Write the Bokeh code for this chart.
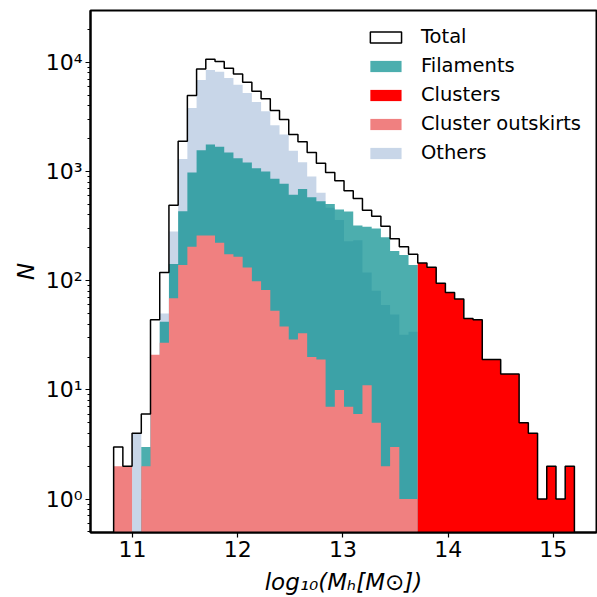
import numpy as np
from bokeh.plotting import figure
from bokeh.models import FixedTicker, Legend, LegendItem
from bokeh.embed import file_html
from bokeh.resources import INLINE

# ---------------- data ----------------
edge_min, edge_max, n_bins = 10.82, 15.20, 50
bin_edges = np.linspace(edge_min, edge_max, n_bins + 1)

total = [3, 2, 4, 6, 44, 119, 491, 1897, 4975, 8690, 10700, 10200, 8810, 7830,
         6580, 5450, 4640, 3630, 2990, 2180, 1875, 1490, 1190, 980, 822, 667,
         566, 442, 390, 316, 242, 205, 175, 145, 133, 95, 78, 68, 45, 44, 19,
         19, 14, 14, 5, 4, 1, 2, 1, 2]
others = [1, 0, 4, 1, 13, 50, 282, 1300, 3820, 6900, 8510, 8220, 7200, 6220,
          5230, 4330, 3560, 2650, 2180, 1550, 1216, 900, 640, 465, 360, 230,
          235, 119, 81, 60, 49, 32, 34] + [0] * 17
filaments = [0, 0, 0, 3, 10, 42, 142, 433, 980, 1570, 1770, 1690, 1497, 1321,
             1208, 1072, 1000, 857, 771, 612, 690, 580, 533, 505, 450, 430,
             320, 312, 300, 250, 187, 172, 139] + [0] * 17
outskirts = [2, 2, 0, 2, 21, 27, 69, 139, 205, 260, 260, 223, 175, 166, 132,
             99, 82, 53, 38, 29, 33, 20, 19, 7, 10, 7, 6, 11, 5, 2, 3, 1, 1] + [0] * 17
clusters = [0] * 33 + [145, 133, 95, 78, 68, 45, 44, 19, 19, 14, 14, 5, 4, 1, 2, 1, 2]

x_ticks = [11, 12, 13, 14, 15]
y_ticks = [1, 10, 100, 1000, 10000]
y_tick_labels = ["10\u2070", "10\u00b9", "10\u00b2", "10\u00b3", "10\u2074"]
legend_labels = ["Total", "Filaments", "Clusters", "Cluster outskirts", "Others"]

FLOOR = 0.05  # below the visible range, so fills run off the bottom


def step_path(counts):
    xs, ys = [bin_edges[0]], [FLOOR]
    for i, c in enumerate(counts):
        v = c if c > 0 else FLOOR
        xs += [bin_edges[i], bin_edges[i + 1]]
        ys += [v, v]
    xs.append(bin_edges[-1])
    ys.append(FLOOR)
    return xs, ys


FONT = "DejaVu Sans"

p = figure(width=597, height=597, x_range=(10.6, 15.41), y_range=(0.494, 29850),
           y_axis_type="log", output_backend="svg", toolbar_location=None,
           min_border_left=90, min_border_right=1, min_border_top=10,
           min_border_bottom=60)
p.grid.visible = False
p.background_fill_color = "white"
p.outline_line_color = "black"
p.outline_line_width = 2

# fills
xo, yo = step_path(others)
r_oth = p.patch(xo, yo, fill_color="#b0c4de", fill_alpha=0.7, line_color=None)
xf, yf = step_path(filaments)
r_fil = p.patch(xf, yf, fill_color="#008b8b", fill_alpha=0.7, line_color=None)
xs_, ys_ = step_path(outskirts)
r_out = p.patch(xs_, ys_, fill_color="#f08080", fill_alpha=1.0, line_color=None)
xc, yc = step_path(clusters)
r_clu = p.patch(xc, yc, fill_color="#ff0000", fill_alpha=1.0, line_color=None)

# total outline (unfilled step, drawn on top)
xt, yt = step_path(total)
r_tot = p.patch(xt, yt, fill_color="white", fill_alpha=0.0,
                line_color="black", line_width=1.5)

legend = Legend(items=[
    LegendItem(label=legend_labels[0], renderers=[r_tot]),
    LegendItem(label=legend_labels[1], renderers=[r_fil]),
    LegendItem(label=legend_labels[2], renderers=[r_clu]),
    LegendItem(label=legend_labels[3], renderers=[r_out]),
    LegendItem(label=legend_labels[4], renderers=[r_oth]),
], location="top_right")
legend.border_line_color = None
legend.background_fill_alpha = 0
legend.label_text_font = FONT
legend.label_text_font_size = "19.5px"
legend.label_text_color = "black"
legend.glyph_width = 39
legend.glyph_height = 14
legend.label_standoff = 16
legend.spacing = 6
legend.margin = 15
legend.padding = 10
p.add_layout(legend)

# axes
p.xaxis.ticker = FixedTicker(ticks=x_ticks)
p.xaxis.minor_tick_line_color = None
minor = [m * 10.0 ** e for e in range(-1, 5) for m in range(2, 10)]
p.yaxis.ticker = FixedTicker(ticks=y_ticks, minor_ticks=minor)
p.yaxis.major_label_overrides = {t: l for t, l in zip(y_ticks, y_tick_labels)}

for ax in (p.xaxis[0], p.yaxis[0]):
    ax.axis_line_color = "black"
    ax.axis_line_width = 2
    ax.major_tick_out = 5
    ax.major_tick_in = 0
    ax.minor_tick_out = 3
    ax.minor_tick_in = 0
    ax.major_tick_line_width = 1.2
    ax.minor_tick_line_width = 1
    ax.major_label_text_font = FONT
    ax.major_label_text_font_size = "22px"
    ax.major_label_text_color = "black"
    ax.axis_label_text_font = FONT
    ax.axis_label_text_font_size = "23px"
    ax.axis_label_text_font_style = "italic"
    ax.axis_label_text_color = "black"
    ax.major_label_standoff = 3

p.xaxis.axis_label = "log\u2081\u2080(M\u2095[M\u2299])"
p.yaxis.axis_label = "N"
p.xaxis.axis_label_standoff = 9
p.yaxis.axis_label_standoff = 4

open("out.html", "w").write(file_html(p, INLINE))
